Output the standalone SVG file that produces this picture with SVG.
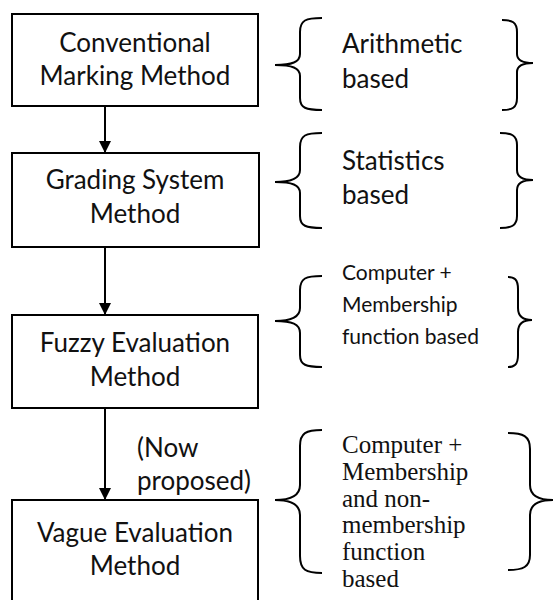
<svg xmlns="http://www.w3.org/2000/svg" width="553" height="600" viewBox="0 0 553 600">
<style>
.box{fill:#fff;stroke:#000;stroke-width:2}
.t{font-family:Lato,"Liberation Sans",sans-serif;font-size:26px;fill:#111;text-anchor:middle}
.s{font-family:Lato,"Liberation Sans",sans-serif;font-size:26px;fill:#111}
.sm{font-family:Lato,"Liberation Sans",sans-serif;font-size:21px;fill:#111}
.sr{font-family:"Liberation Serif","Times New Roman",serif;font-size:25px;fill:#111}
.br{fill:none;stroke:#000;stroke-width:2}
.ln{stroke:#000;stroke-width:2;fill:none}
</style>
<defs>
<marker id="ah" viewBox="0 0 12 12" refX="12" refY="6" markerWidth="12" markerHeight="12" markerUnits="userSpaceOnUse" orient="auto">
<path d="M0,0 L12,6 L0,12 Z" fill="#000"/>
</marker>
</defs>
<g id="connectors">
<line class="ln" x1="105" y1="106" x2="105" y2="153" marker-end="url(#ah)"/>
<line class="ln" x1="105" y1="247" x2="105" y2="315" marker-end="url(#ah)"/>
<line class="ln" x1="105" y1="408" x2="105" y2="500" marker-end="url(#ah)"/>
<text class="s" x="137" y="457">(Now</text>
<text class="s" x="137" y="490">proposed)</text>
</g>
<g id="node1">
<rect class="box" x="12" y="14" width="246" height="92"/>
<text class="t" x="135" y="52">Conventional</text>
<text class="t" x="135" y="85">Marking Method</text>
</g>
<g id="node2">
<rect class="box" x="12" y="153" width="247" height="94"/>
<text class="t" x="135" y="189">Grading System</text>
<text class="t" x="135" y="223">Method</text>
</g>
<g id="node3">
<rect class="box" x="12" y="315" width="246" height="93"/>
<text class="t" x="135" y="352">Fuzzy Evaluation</text>
<text class="t" x="135" y="386">Method</text>
</g>
<g id="node4">
<rect class="box" x="12" y="500" width="246" height="110"/>
<text class="t" x="135" y="542">Vague Evaluation</text>
<text class="t" x="135" y="575">Method</text>
</g>
<g id="brace1">
<path class="br" d="M322,18 C306,18 300,20 300,32 L300,54 C300,62 292,65 275,65 C292,65 300,68 300,76 L300,98 C300,108 306,110 322,110"/>
<path class="br" d="M502,20 C512,20 517,22 517,32 L517,54 C517,60 522,63 533,63 C522,63 517,66 517,72 L517,98 C517,108 512,110 502,110"/>
<text class="s" x="342" y="53">Arithmetic</text>
<text class="s" x="342" y="88">based</text>
</g>
<g id="brace2">
<path class="br" d="M322,133 C306,133 300,135 300,147 L300,170 C300,178 292,182 275,182 C292,182 300,185 300,193 L300,216 C300,226 306,228 322,228"/>
<path class="br" d="M500,133 C511,133 517,135 517,145 L517,170 C517,177 522,180 533,180 C522,180 517,183 517,190 L517,216 C517,226 511,228 500,228"/>
<text class="s" x="342" y="170">Statistics</text>
<text class="s" x="342" y="204">based</text>
</g>
<g id="brace3">
<path class="br" d="M322,276 C306,276 300,278 300,290 L300,308 C300,317 292,321 275,321 C292,321 300,324 300,333 L300,355 C300,365 306,367 322,367"/>
<path class="br" d="M508,277 C514,277 518,279 518,289 L518,308 C518,316 522,320 532,320 C522,320 518,324 518,332 L518,355 C518,365 514,367 508,367"/>
<text class="sm" x="342" y="280">Computer +</text>
<text class="sm" x="342" y="312">Membership</text>
<text class="sm" x="342" y="344">function based</text>
</g>
<g id="brace4">
<path class="br" d="M322,430 C306,430 300,433 300,446 L300,485 C300,495 292,500 275,500 C292,500 300,505 300,515 L300,556 C300,570 306,573 322,573"/>
<path class="br" d="M508,433 C523,433 530,436 530,449 L530,485 C530,495 538,500 553,500 C538,500 530,505 530,515 L530,555 C530,567 523,570 508,570"/>
<text class="sr" x="342" y="453">Computer +</text>
<text class="sr" x="342" y="480">Membership</text>
<text class="sr" x="342" y="507">and non-</text>
<text class="sr" x="342" y="533">membership</text>
<text class="sr" x="342" y="560">function</text>
<text class="sr" x="342" y="587">based</text>
</g>
</svg>
